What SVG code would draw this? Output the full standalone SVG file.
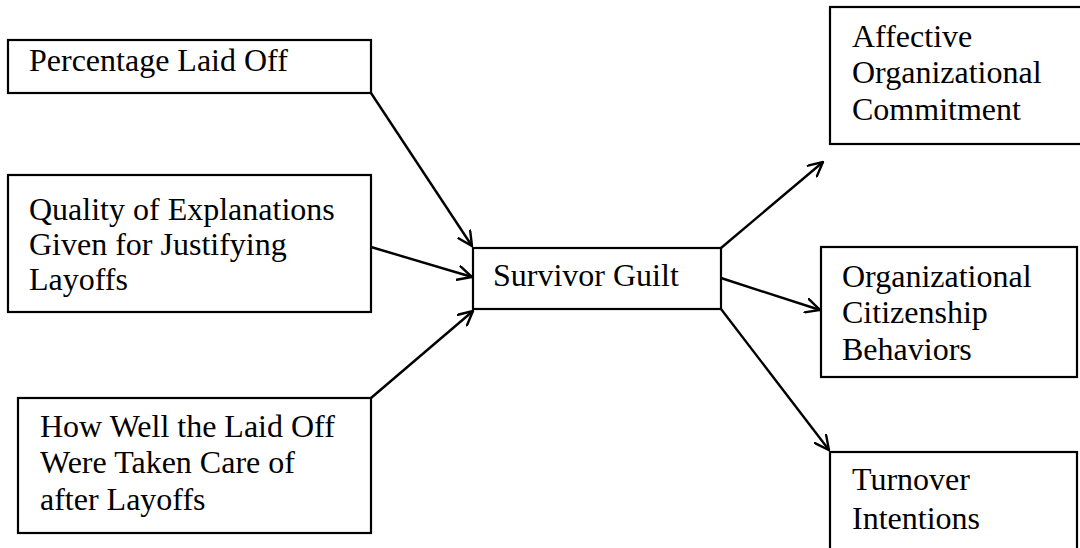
<svg xmlns="http://www.w3.org/2000/svg" width="1080" height="548" viewBox="0 0 1080 548">
<style>
.box{fill:#fff;stroke:#000;stroke-width:2.2}
.t{font-family:"Liberation Serif","Times New Roman",serif;font-size:32px;fill:#000}
.c{stroke:#000;stroke-width:2.4;fill:none}
</style>
<defs>
<marker id="ah" viewBox="0 0 16 16" refX="15" refY="8" markerWidth="16" markerHeight="16" markerUnits="userSpaceOnUse" orient="auto">
<path d="M1,1 L15,8 L1,15" fill="none" stroke="#000" stroke-width="2.4" stroke-linecap="round" stroke-linejoin="miter"/>
</marker>
</defs>
<rect width="1080" height="548" fill="#fff"/>
<g id="connectors">
<line class="c" x1="371" y1="93" x2="472" y2="246" marker-end="url(#ah)"/>
<line class="c" x1="371" y1="247" x2="472" y2="277" marker-end="url(#ah)"/>
<line class="c" x1="371" y1="398" x2="473" y2="311" marker-end="url(#ah)"/>
<line class="c" x1="721" y1="248" x2="823" y2="162" marker-end="url(#ah)"/>
<line class="c" x1="721" y1="278" x2="820" y2="310" marker-end="url(#ah)"/>
<line class="c" x1="721" y1="309" x2="829" y2="450" marker-end="url(#ah)"/>
</g>
<g id="percentage">
<rect class="box" x="8" y="40" width="363" height="53"/>
<text class="t" x="29" y="71">Percentage Laid Off</text>
</g>
<g id="quality">
<rect class="box" x="8" y="175" width="363" height="137"/>
<text class="t" x="29" y="220">Quality of Explanations</text>
<text class="t" x="29" y="255">Given for Justifying</text>
<text class="t" x="29" y="290">Layoffs</text>
</g>
<g id="howwell">
<rect class="box" x="18" y="398" width="353" height="135"/>
<text class="t" x="40" y="437">How Well the Laid Off</text>
<text class="t" x="40" y="473">Were Taken Care of</text>
<text class="t" x="40" y="510">after Layoffs</text>
</g>
<g id="survivor">
<rect class="box" x="473" y="248" width="248" height="61"/>
<text class="t" x="493" y="286">Survivor Guilt</text>
</g>
<g id="affective">
<rect class="box" x="830" y="7" width="260" height="137"/>
<text class="t" x="852" y="47">Affective</text>
<text class="t" x="852" y="83">Organizational</text>
<text class="t" x="852" y="120">Commitment</text>
</g>
<g id="ocb">
<rect class="box" x="821" y="247" width="256" height="130"/>
<text class="t" x="842" y="287">Organizational</text>
<text class="t" x="842" y="323">Citizenship</text>
<text class="t" x="842" y="360">Behaviors</text>
</g>
<g id="turnover">
<rect class="box" x="830" y="452" width="247" height="110"/>
<text class="t" x="852" y="490">Turnover</text>
<text class="t" x="852" y="529">Intentions</text>
</g>
</svg>
